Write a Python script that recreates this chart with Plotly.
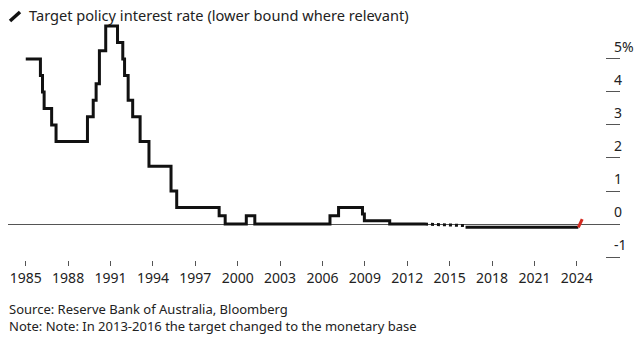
import plotly.graph_objects as go

# --- data ---
rate_dates = ["1985-01-01", "1986-01-15", "1986-03-10", "1986-04-21", "1986-11-01",
              "1987-02-23", "1989-05-15", "1989-10-11", "1989-12-25", "1990-03-20",
              "1990-08-30", "1991-07-01", "1991-11-14", "1991-12-30", "1992-04-01",
              "1992-07-27", "1993-02-04", "1993-09-21", "1995-04-14", "1995-09-08",
              "1998-09-09", "1999-02-12", "2000-08-11", "2001-03-19", "2006-07-14",
              "2007-02-21", "2008-10-31", "2008-12-19", "2010-10-05", "2013-04-04"]
rate_values = [5.0, 4.5, 4.0, 3.5, 3.0,
               2.5, 3.25, 3.75, 4.25, 5.25,
               6.0, 5.5, 5.0, 4.5, 3.75,
               3.25, 2.5, 1.75, 1.0, 0.5,
               0.25, 0.0, 0.25, 0.0, 0.25,
               0.5, 0.3, 0.1, 0.0, 0.0]

base_dates = ["2013-04-04", "2016-02-16"]      # monetary-base target period
base_values = [0.0, -0.05]

neg_dates = ["2016-02-16", "2024-02-10"]
neg_values = [-0.1, -0.1]

hike_dates = ["2024-02-10", "2024-05-20"]
hike_values = [-0.1, 0.15]

x_tick_years = [1985, 1988, 1991, 1994, 1997, 2000, 2003, 2006, 2009, 2012, 2015, 2018, 2021, 2024]

y_ticks = [-1, 0, 1, 2, 3, 4, 5]
y_tick_labels = ["-1", "0", "1", "2", "3", "4", "5%"]

title_text = "Target policy interest rate (lower bound where relevant)"
source_text = "Source: Reserve Bank of Australia, Bloomberg"
note_text = "Note: Note: In 2013-2016 the target changed to the monetary base"

FONT = "Noto Sans"
INK = "#111111"

fig = go.Figure()
fig.add_trace(go.Scatter(x=rate_dates, y=rate_values, mode="lines",
                         line=dict(color=INK, width=3, shape="hv"), hoverinfo="skip"))
fig.add_trace(go.Scatter(x=base_dates, y=base_values, mode="lines",
                         line=dict(color=INK, width=3, dash="dot"), hoverinfo="skip"))
fig.add_trace(go.Scatter(x=neg_dates, y=neg_values, mode="lines",
                         line=dict(color=INK, width=3), hoverinfo="skip"))
fig.add_trace(go.Scatter(x=hike_dates, y=hike_values, mode="lines",
                         line=dict(color="#d42a20", width=3), hoverinfo="skip"))

fig.update_layout(
    width=640, height=338,
    margin=dict(l=8, r=20, t=20, b=78),
    paper_bgcolor="white", plot_bgcolor="white",
    showlegend=False,
    font=dict(family=FONT, color="#222222", size=14),
    xaxis=dict(
        type="date", automargin=False,
        range=["1983-09-30", "2027-01-22"],
        tickvals=[f"{y}-01-01" for y in x_tick_years],
        ticktext=[str(y) for y in x_tick_years],
        ticks="outside", ticklen=5, tickcolor="#555555", tickwidth=1,
        showgrid=False, showline=False, zeroline=False,
        tickfont=dict(family=FONT, size=14, color="#222222"),
    ),
    yaxis=dict(
        side="right", automargin=False,
        range=[-1.09, 6.18],
        tickvals=y_ticks, ticktext=y_tick_labels,
        ticks="inside", ticklen=14, tickcolor="#555555", tickwidth=1,
        ticklabelstandoff=-7, ticklabelshift=-12,
        showgrid=False, showline=False,
        zeroline=True, zerolinecolor="#555555", zerolinewidth=1,
        tickfont=dict(family=FONT, size=14, color="#222222"),
    ),
)

def px_x(p):
    return (p - 8) / 612.0

def px_y(p):
    return (260 - p) / 240.0

# pen icon before the title
fig.add_shape(type="line", xref="paper", yref="paper",
              x0=px_x(10), y0=px_y(21), x1=px_x(20), y1=px_y(12),
              line=dict(color=INK, width=3.5))

fig.add_annotation(text=title_text, xref="paper", yref="paper",
                   x=px_x(27), y=px_y(15), xanchor="left", yanchor="middle",
                   showarrow=False, font=dict(family=FONT, size=14.6, color="#222222"))
fig.add_annotation(text=source_text, xref="paper", yref="paper",
                   x=px_x(7), y=px_y(309), xanchor="left", yanchor="middle",
                   showarrow=False, font=dict(family=FONT, size=13, color="#222222"))
fig.add_annotation(text=note_text, xref="paper", yref="paper",
                   x=px_x(7), y=px_y(326), xanchor="left", yanchor="middle",
                   showarrow=False, font=dict(family=FONT, size=13, color="#222222"))

fig.write_html("out.html")
